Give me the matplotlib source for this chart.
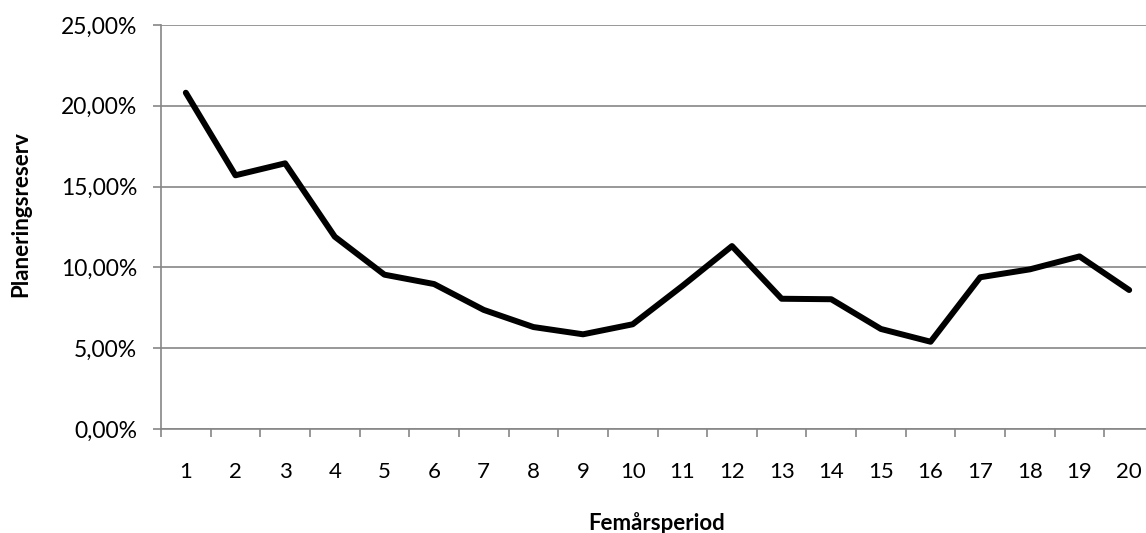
import matplotlib.pyplot as plt
from matplotlib.ticker import FixedLocator, FuncFormatter

periods = list(range(1, 21))
reserve = [20.81, 15.70, 16.44, 11.90, 9.55, 8.97, 7.37, 6.31, 5.86, 6.48,
           8.85, 11.32, 8.06, 8.03, 6.19, 5.40, 9.39, 9.88, 10.68, 8.60]

W, H = 1146, 533
fig = plt.figure(figsize=(W / 100, H / 100), dpi=100)
plt.rcParams['font.family'] = ['Lato', 'DejaVu Sans']

# plot area in pixels (right edge runs past the image, as in the original)
left, right, top, bottom = 161, 1154, 25, 429
ax = fig.add_axes([left / W, (H - bottom) / H, (right - left) / W, (bottom - top) / H])

grid_col = '#868686'
ax.plot(periods, reserve, color='black', lw=4.3,
        solid_capstyle='round', solid_joinstyle='round', zorder=3)

ax.set_xlim(0.5, 20.5)
ax.set_ylim(0, 25)
ax.set_yticks([0, 5, 10, 15, 20, 25])
ax.yaxis.set_major_formatter(FuncFormatter(lambda v, _: f"{v:.2f}%".replace('.', ',')))
ax.grid(axis='y', color=grid_col, lw=1.2)
ax.set_axisbelow(True)

ax.set_xticks(periods)
ax.set_xticklabels([str(p) for p in periods])
ax.xaxis.set_minor_locator(FixedLocator([p + 0.5 for p in range(0, 21)]))
ax.tick_params(axis='x', which='major', length=0, pad=24, labelsize=16)
ax.tick_params(axis='x', which='minor', length=5.5, color=grid_col, width=1.2)
ax.tick_params(axis='y', length=6, color=grid_col, width=1.2, pad=11, labelsize=16.5)

for s in ['top', 'right']:
    ax.spines[s].set_visible(False)
for s in ['left', 'bottom']:
    ax.spines[s].set_color(grid_col)
    ax.spines[s].set_linewidth(1.2)

fig.text(21 / W, 1 - 214 / H, 'Planeringsreserv', rotation=90, ha='center', va='center',
         fontsize=16, fontweight='bold')
fig.text(657 / W, 1 - 530 / H, 'Femårsperiod', ha='center', va='baseline',
         fontsize=16, fontweight='bold')

fig.savefig('out.png', dpi=100)
